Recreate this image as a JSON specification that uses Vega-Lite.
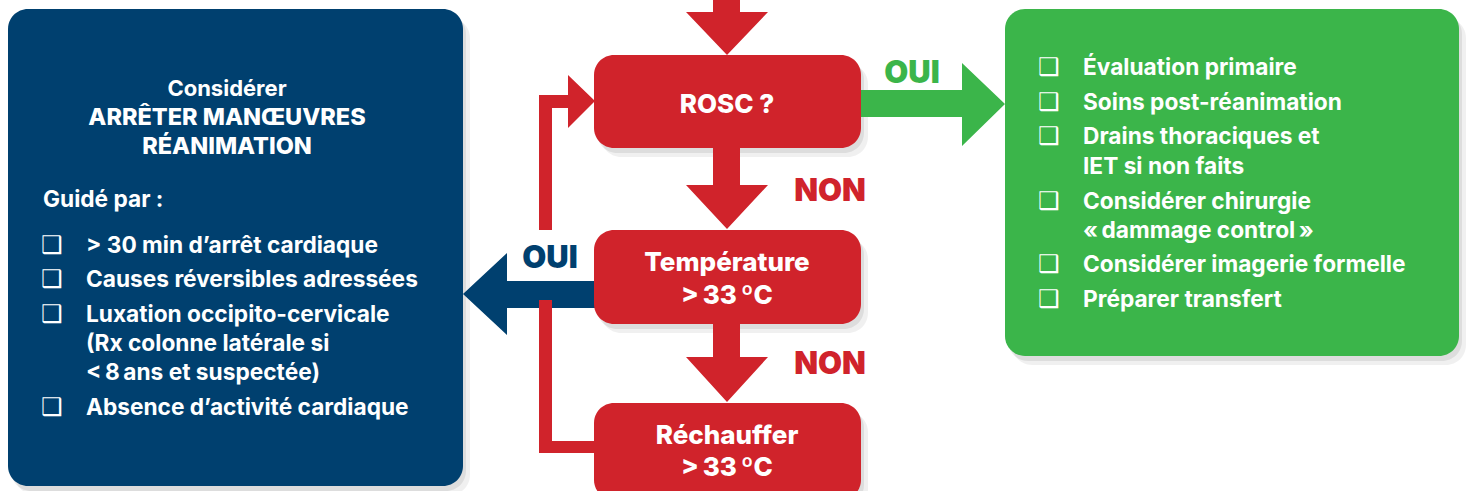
{
  "$schema": "https://vega.github.io/schema/vega-lite/v6.json",
  "width": 1466,
  "height": 491,
  "autosize": {"type": "none"},
  "padding": 0,
  "background": "white",
  "config": {"view": {"stroke": null}},
  "datasets": {
    "boxes": [
      {"id": "stop", "kind": "blue", "x1": 8, "x2": 463, "y1": 9, "y2": 486},
      {"id": "rosc", "kind": "red", "x1": 594, "x2": 861, "y1": 55, "y2": 148},
      {"id": "temp", "kind": "red", "x1": 594, "x2": 861, "y1": 230, "y2": 324},
      {"id": "rech", "kind": "red", "x1": 594, "x2": 861, "y1": 403, "y2": 500},
      {"id": "post", "kind": "green", "x1": 1005, "x2": 1459, "y1": 9, "y2": 356}
    ],
    "arrows": [
      {"arrow": "top", "kind": "red", "i": 0, "x": 713, "y": 0},
      {"arrow": "top", "kind": "red", "i": 1, "x": 740, "y": 0},
      {"arrow": "top", "kind": "red", "i": 2, "x": 740, "y": 12},
      {"arrow": "top", "kind": "red", "i": 3, "x": 768, "y": 12},
      {"arrow": "top", "kind": "red", "i": 4, "x": 727, "y": 55},
      {"arrow": "top", "kind": "red", "i": 5, "x": 686, "y": 12},
      {"arrow": "top", "kind": "red", "i": 6, "x": 713, "y": 12},

      {"arrow": "non1", "kind": "red", "i": 0, "x": 713, "y": 146},
      {"arrow": "non1", "kind": "red", "i": 1, "x": 740, "y": 146},
      {"arrow": "non1", "kind": "red", "i": 2, "x": 740, "y": 185},
      {"arrow": "non1", "kind": "red", "i": 3, "x": 768, "y": 185},
      {"arrow": "non1", "kind": "red", "i": 4, "x": 727, "y": 229},
      {"arrow": "non1", "kind": "red", "i": 5, "x": 686, "y": 185},
      {"arrow": "non1", "kind": "red", "i": 6, "x": 713, "y": 185},

      {"arrow": "non2", "kind": "red", "i": 0, "x": 713, "y": 322},
      {"arrow": "non2", "kind": "red", "i": 1, "x": 740, "y": 322},
      {"arrow": "non2", "kind": "red", "i": 2, "x": 740, "y": 357},
      {"arrow": "non2", "kind": "red", "i": 3, "x": 768, "y": 357},
      {"arrow": "non2", "kind": "red", "i": 4, "x": 727, "y": 402},
      {"arrow": "non2", "kind": "red", "i": 5, "x": 686, "y": 357},
      {"arrow": "non2", "kind": "red", "i": 6, "x": 713, "y": 357},

      {"arrow": "ouiG", "kind": "green", "i": 0, "x": 858, "y": 90},
      {"arrow": "ouiG", "kind": "green", "i": 1, "x": 962, "y": 90},
      {"arrow": "ouiG", "kind": "green", "i": 2, "x": 962, "y": 63},
      {"arrow": "ouiG", "kind": "green", "i": 3, "x": 1005, "y": 104},
      {"arrow": "ouiG", "kind": "green", "i": 4, "x": 962, "y": 146},
      {"arrow": "ouiG", "kind": "green", "i": 5, "x": 962, "y": 117},
      {"arrow": "ouiG", "kind": "green", "i": 6, "x": 858, "y": 117},

      {"arrow": "ouiB", "kind": "blue", "i": 0, "x": 597, "y": 281},
      {"arrow": "ouiB", "kind": "blue", "i": 1, "x": 507, "y": 281},
      {"arrow": "ouiB", "kind": "blue", "i": 2, "x": 507, "y": 253},
      {"arrow": "ouiB", "kind": "blue", "i": 3, "x": 463, "y": 294},
      {"arrow": "ouiB", "kind": "blue", "i": 4, "x": 507, "y": 335},
      {"arrow": "ouiB", "kind": "blue", "i": 5, "x": 507, "y": 308},
      {"arrow": "ouiB", "kind": "blue", "i": 6, "x": 597, "y": 308},

      {"arrow": "loopUp", "kind": "red", "i": 0, "x": 539, "y": 230},
      {"arrow": "loopUp", "kind": "red", "i": 1, "x": 539, "y": 95},
      {"arrow": "loopUp", "kind": "red", "i": 2, "x": 568, "y": 95},
      {"arrow": "loopUp", "kind": "red", "i": 3, "x": 568, "y": 75},
      {"arrow": "loopUp", "kind": "red", "i": 4, "x": 595, "y": 101},
      {"arrow": "loopUp", "kind": "red", "i": 5, "x": 568, "y": 128},
      {"arrow": "loopUp", "kind": "red", "i": 6, "x": 568, "y": 108},
      {"arrow": "loopUp", "kind": "red", "i": 7, "x": 552, "y": 108},
      {"arrow": "loopUp", "kind": "red", "i": 8, "x": 552, "y": 230},

      {"arrow": "loopDown", "kind": "red", "i": 0, "x": 539, "y": 300},
      {"arrow": "loopDown", "kind": "red", "i": 1, "x": 552, "y": 300},
      {"arrow": "loopDown", "kind": "red", "i": 2, "x": 552, "y": 441},
      {"arrow": "loopDown", "kind": "red", "i": 3, "x": 597, "y": 441},
      {"arrow": "loopDown", "kind": "red", "i": 4, "x": 597, "y": 453},
      {"arrow": "loopDown", "kind": "red", "i": 5, "x": 539, "y": 453}
    ],
    "texts": [
      {"role": "box", "text": "ROSC ?", "x": 727, "y": 105},
      {"role": "box", "text": "Température", "x": 727, "y": 263},
      {"role": "box", "text": ">\u202f33\u202fºC", "x": 727, "y": 296},
      {"role": "box", "text": "Réchauffer", "x": 727, "y": 436},
      {"role": "box", "text": ">\u202f33\u202fºC", "x": 727, "y": 468},
      {"role": "branch", "kind": "green", "text": "OUI", "x": 912, "y": 74},
      {"role": "branch", "kind": "red", "text": "NON", "x": 830, "y": 192},
      {"role": "branch", "kind": "red", "text": "NON", "x": 830, "y": 365},
      {"role": "branch", "kind": "blue", "text": "OUI", "x": 550, "y": 259},
      {"role": "title", "text": "Considérer", "x": 227, "y": 89},
      {"role": "caps", "text": "ARRÊTER MANŒUVRES", "x": 227, "y": 118},
      {"role": "caps", "text": "RÉANIMATION", "x": 227, "y": 147},
      {"role": "item", "text": "Guidé par :", "x": 43, "y": 200},
      {"role": "item", "text": "> 30 min d’arrêt cardiaque", "x": 86, "y": 246},
      {"role": "item", "text": "Causes réversibles adressées", "x": 86, "y": 280},
      {"role": "item", "text": "Luxation occipito-cervicale", "x": 86, "y": 315},
      {"role": "item", "text": "(Rx colonne latérale si", "x": 86, "y": 344},
      {"role": "item", "text": "<\u202f8\u202fans et suspectée)", "x": 86, "y": 373},
      {"role": "item", "text": "Absence d’activité cardiaque", "x": 86, "y": 408},
      {"role": "item", "text": "Évaluation primaire", "x": 1083, "y": 68},
      {"role": "item", "text": "Soins post-réanimation", "x": 1083, "y": 103},
      {"role": "item", "text": "Drains thoraciques et", "x": 1083, "y": 137},
      {"role": "item", "text": "IET si non faits", "x": 1083, "y": 167},
      {"role": "item", "text": "Considérer chirurgie", "x": 1083, "y": 202},
      {"role": "item", "text": "«\u202fdammage control\u202f»", "x": 1083, "y": 231},
      {"role": "item", "text": "Considérer imagerie formelle", "x": 1083, "y": 265},
      {"role": "item", "text": "Préparer transfert", "x": 1083, "y": 300},
      {"role": "check", "text": "❑", "x": 52, "y": 246},
      {"role": "check", "text": "❑", "x": 52, "y": 280},
      {"role": "check", "text": "❑", "x": 52, "y": 315},
      {"role": "check", "text": "❑", "x": 52, "y": 408},
      {"role": "check", "text": "❑", "x": 1049, "y": 68},
      {"role": "check", "text": "❑", "x": 1049, "y": 103},
      {"role": "check", "text": "❑", "x": 1049, "y": 137},
      {"role": "check", "text": "❑", "x": 1049, "y": 202},
      {"role": "check", "text": "❑", "x": 1049, "y": 265},
      {"role": "check", "text": "❑", "x": 1049, "y": 300}
    ]
  },
  "resolve": {"scale": {"color": "shared"}},
  "layer": [
    {
      "data": {"name": "boxes"},
      "mark": {"type": "rect", "cornerRadius": 20, "color": "#000000", "opacity": 0.06, "xOffset": 7, "x2Offset": 7, "yOffset": 9, "y2Offset": 9, "clip": true},
      "encoding": {
        "x": {"field": "x1", "type": "quantitative", "scale": {"domain": [0, 1466], "nice": false, "zero": false}, "axis": null},
        "x2": {"field": "x2"},
        "y": {"field": "y1", "type": "quantitative", "scale": {"domain": [0, 491], "nice": false, "zero": false, "reverse": true}, "axis": null},
        "y2": {"field": "y2"}
      }
    },
    {
      "data": {"name": "boxes"},
      "mark": {"type": "rect", "cornerRadius": 20, "color": "#000000", "opacity": 0.08, "xOffset": 3, "x2Offset": 3, "yOffset": 5, "y2Offset": 5, "clip": true},
      "encoding": {
        "x": {"field": "x1", "type": "quantitative"},
        "x2": {"field": "x2"},
        "y": {"field": "y1", "type": "quantitative"},
        "y2": {"field": "y2"}
      }
    },
    {
      "data": {"name": "arrows"},
      "mark": {"type": "line", "filled": true, "strokeWidth": 0, "interpolate": "linear-closed"},
      "encoding": {
        "x": {"field": "x", "type": "quantitative"},
        "y": {"field": "y", "type": "quantitative"},
        "detail": {"field": "arrow", "type": "nominal"},
        "order": {"field": "i", "type": "quantitative"},
        "color": {"field": "kind", "type": "nominal", "scale": {"domain": ["blue", "red", "green"], "range": ["#00406f", "#d0232b", "#3bb54a"]}, "legend": null}
      }
    },
    {
      "data": {"name": "boxes"},
      "mark": {"type": "rect", "cornerRadius": 20, "clip": true},
      "encoding": {
        "x": {"field": "x1", "type": "quantitative"},
        "x2": {"field": "x2"},
        "y": {"field": "y1", "type": "quantitative"},
        "y2": {"field": "y2"},
        "color": {"field": "kind", "type": "nominal", "legend": null}
      }
    },
    {
      "data": {"name": "texts"},
      "transform": [{"filter": "datum.role === 'box'"}],
      "mark": {"type": "text", "font": "Inter", "fontWeight": 800, "fontSize": 26, "color": "white", "align": "center", "baseline": "middle"},
      "encoding": {
        "x": {"field": "x", "type": "quantitative"},
        "y": {"field": "y", "type": "quantitative"},
        "text": {"field": "text"}
      }
    },
    {
      "data": {"name": "texts"},
      "transform": [{"filter": "datum.role === 'branch'"}],
      "mark": {"type": "text", "font": "Inter", "fontWeight": 900, "fontSize": 31, "align": "center", "baseline": "middle"},
      "encoding": {
        "x": {"field": "x", "type": "quantitative"},
        "y": {"field": "y", "type": "quantitative"},
        "text": {"field": "text"},
        "color": {"field": "kind", "type": "nominal", "legend": null}
      }
    },
    {
      "data": {"name": "texts"},
      "transform": [{"filter": "datum.role === 'title'"}],
      "mark": {"type": "text", "font": "Inter", "fontWeight": "bold", "fontSize": 22, "color": "white", "align": "center", "baseline": "middle"},
      "encoding": {
        "x": {"field": "x", "type": "quantitative"},
        "y": {"field": "y", "type": "quantitative"},
        "text": {"field": "text"}
      }
    },
    {
      "data": {"name": "texts"},
      "transform": [{"filter": "datum.role === 'caps'"}],
      "mark": {"type": "text", "font": "Inter", "fontWeight": 800, "fontSize": 23.5, "color": "white", "align": "center", "baseline": "middle"},
      "encoding": {
        "x": {"field": "x", "type": "quantitative"},
        "y": {"field": "y", "type": "quantitative"},
        "text": {"field": "text"}
      }
    },
    {
      "data": {"name": "texts"},
      "transform": [{"filter": "datum.role === 'item'"}],
      "mark": {"type": "text", "font": "Inter", "fontWeight": "bold", "fontSize": 22.7, "color": "white", "align": "left", "baseline": "middle"},
      "encoding": {
        "x": {"field": "x", "type": "quantitative"},
        "y": {"field": "y", "type": "quantitative"},
        "text": {"field": "text"}
      }
    },
    {
      "data": {"name": "texts"},
      "transform": [{"filter": "datum.role === 'check'"}],
      "mark": {"type": "text", "font": "DejaVu Sans", "fontWeight": "bold", "fontSize": 24, "color": "white", "align": "center", "baseline": "middle"},
      "encoding": {
        "x": {"field": "x", "type": "quantitative"},
        "y": {"field": "y", "type": "quantitative"},
        "text": {"field": "text"}
      }
    }
  ]
}
